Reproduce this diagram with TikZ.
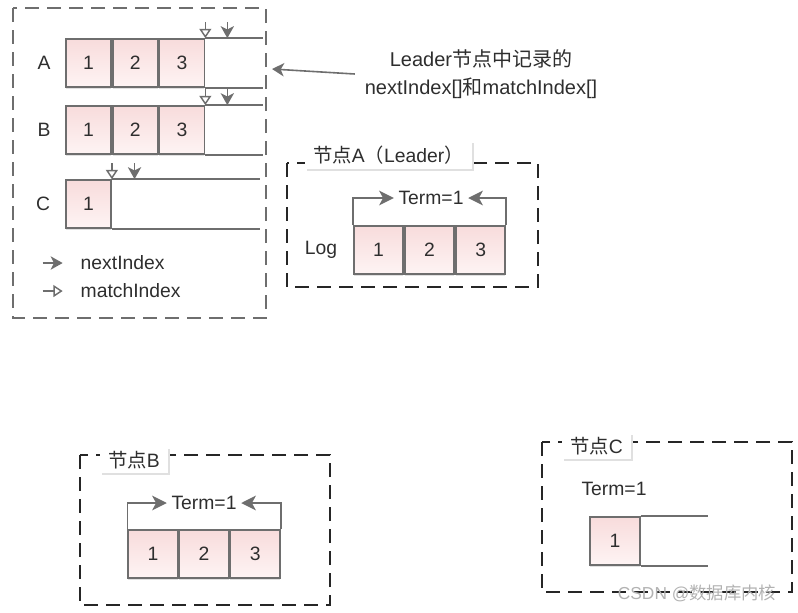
\documentclass[tikz,border=0pt]{standalone}
\usepackage{fontspec}
\setmainfont{Liberation Sans}
\newfontfamily\cjk{Noto Sans CJK SC}
\usetikzlibrary{arrows.meta, positioning, shadows}
\definecolor{cellpink}{HTML}{F8DCDC}
\definecolor{cellpale}{HTML}{FEF4F4}
\definecolor{linegray}{HTML}{6E6E6E}
\definecolor{textgray}{HTML}{2E2E2E}
\newcommand{\zh}[1]{{\cjk #1}}

\begin{document}
\begin{tikzpicture}[
  x=0.75pt, y=-0.75pt,
  font=\fontsize{14.5}{17}\selectfont, text=textgray,
  cell/.style={draw=linegray, line width=1.3pt, top color=cellpink, bottom color=cellpale, general shadow={fill=black!12, shadow yshift=-1.3pt}, minimum height=36pt, minimum width=#1, inner sep=0pt},
  cell/.default=37pt,
  logline/.style={draw=linegray, line width=1.3pt},
  frame/.style={draw=black!85, line width=1.5pt, dash pattern=on 10.5pt off 6pt},
  tab/.style={fill=white, general shadow={fill=black!12, shadow xshift=1.5pt, shadow yshift=-1.5pt}, inner xsep=6pt, minimum height=20pt, anchor=west},
  nextarr/.style={draw=linegray, line width=1.2pt, -{Stealth[length=9pt, width=10pt, inset=2.5pt]}},
  matcharr/.style={draw=linegray, line width=1.1pt, -{Triangle[open, length=7pt, width=9pt]}},
  termarr/.style={draw=linegray, line width=1.3pt, -{Stealth[length=11pt, width=11pt, inset=3pt]}},
  node distance=0pt
]
\useasboundingbox (0,0) rectangle (798,612);

\draw[frame, draw=linegray] (13,8) rectangle (266,318);
\node[cell=33.75pt] (a1) at (88.5,63) {1};
\node[cell=33.75pt, right=of a1] (a2) {2};
\node[cell=33.75pt, right=of a2] (a3) {3};
\node (la) at (44,63) {A};
\draw[logline] (a3.north east) -- ++(58,0);
\draw[logline] (a3.south east) -- ++(58,0);
\draw[matcharr] ([yshift=12pt]a3.north east) -- (a3.north east);
\draw[nextarr] ([xshift=16.5pt, yshift=12pt]a3.north east) -- ([xshift=16.5pt]a3.north east);

\node[cell=33.75pt] (b1) at (88.5,130) {1};
\node[cell=33.75pt, right=of b1] (b2) {2};
\node[cell=33.75pt, right=of b2] (b3) {3};
\node (lb) at (44,130) {B};
\draw[logline] (b3.north east) -- ++(58,0);
\draw[logline] (b3.south east) -- ++(58,0);
\draw[matcharr] ([yshift=12pt]b3.north east) -- (b3.north east);
\draw[nextarr] ([xshift=16.5pt, yshift=12pt]b3.north east) -- ([xshift=16.5pt]b3.north east);

\node[cell=33.75pt] (c1) at (88.5,204) {1};
\node (lc) at (43,204) {C};
\draw[logline] (c1.north east) -- ++(148,0);
\draw[logline] (c1.south east) -- ++(148,0);
\draw[matcharr] ([yshift=12pt]c1.north east) -- (c1.north east);
\draw[nextarr] ([xshift=17pt, yshift=12pt]c1.north east) -- ([xshift=17pt]c1.north east);

\node[anchor=west] (kn) at (76,263) {nextIndex};
\node[anchor=west] (km) at (76,291) {matchIndex};
\draw[nextarr] ([xshift=-25pt]kn.west) -- ([xshift=-10pt]kn.west);
\draw[matcharr] ([xshift=-25pt]km.west) -- ([xshift=-10pt]km.west);

\node[align=center, font=\fontsize{15}{21}\selectfont] (note) at (481,74) {Leader\zh{节点中记录的}\\nextIndex[]\zh{和}matchIndex[]};
\coordinate (ptr) at (272,69);
\draw[nextarr] ([xshift=-4pt]note.west) -- (ptr);

\draw[frame] (287,163) rectangle (538,287);
\node[tab] (tA) at (305,155) {\zh{节点}A\zh{（}Leader\zh{）}};
\node[cell] (l1) at (378.5,250) {1};
\node[cell, right=of l1] (l2) {2};
\node[cell, right=of l2] (l3) {3};
\node (log) at (321,250) {Log};
\node (tmA) at (431,198) {Term=1};
\draw[termarr] (l1.north west) |- (tmA.west);
\draw[termarr] (l3.north east) |- (tmA.east);

\draw[frame] (80,455) rectangle (330,605);
\node[tab] (tB) at (100,460) {\zh{节点}B};
\node[cell] (nb1) at (153,554) {1};
\node[cell, right=of nb1] (nb2) {2};
\node[cell, right=of nb2] (nb3) {3};
\node (tmB) at (204,503) {Term=1};
\draw[termarr] (nb1.north west) |- (tmB.west);
\draw[termarr] (nb3.north east) |- (tmB.east);

\draw[frame] (542,442) rectangle (792,592);
\node[tab] (tC) at (562,446) {\zh{节点}C};
\node (tmC) at (614,489) {Term=1};
\node[cell] (nc1) at (615,541) {1};
\draw[logline] (nc1.north east) -- ++(67,0);
\draw[logline] (nc1.south east) -- ++(67,0);

\node[text=black!30, font=\fontsize{13}{15}\selectfont] (wm) at (697,593) {CSDN @\zh{数据库内核}};
\end{tikzpicture}
\end{document}
